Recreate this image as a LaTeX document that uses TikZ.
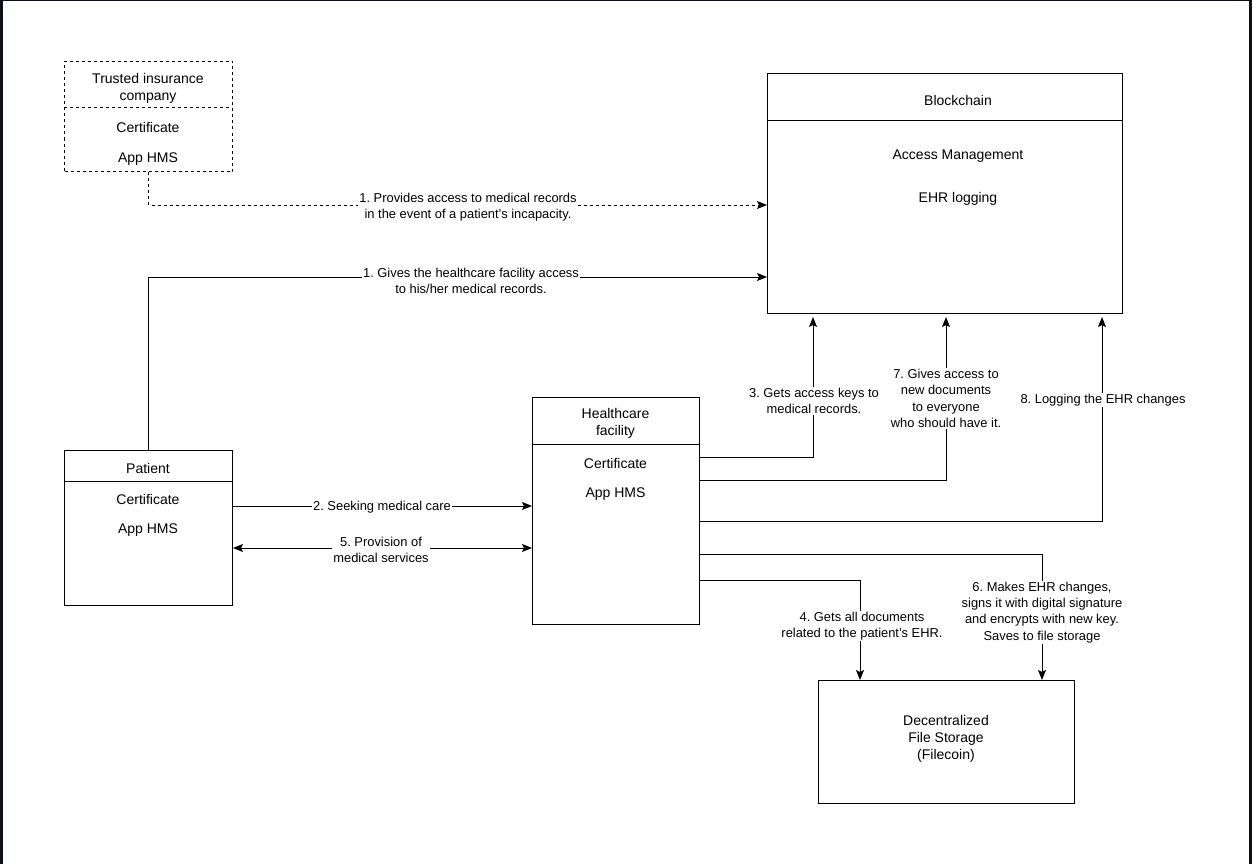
\documentclass[tikz,border=0pt]{standalone}
\usepackage{fontspec}
\setmainfont{Liberation Sans}
\usetikzlibrary{arrows.meta}
\definecolor{framecol}{HTML}{0D1117}
\tikzset{
  box/.style={draw=black, line width=1pt, anchor=north west, inner sep=0pt},
  dbox/.style={box, dash pattern=on 3pt off 3pt},
  btxt/.style={align=center, inner sep=0pt, yshift=-2pt, font=\fontsize{14}{17}\selectfont},
  lbl/.style={align=center, fill=white, inner sep=1pt, yshift=-1pt, font=\fontsize{12.9}{16.3}\selectfont},
  conn/.style={draw=black, line width=1pt, -{Stealth[length=10pt,width=8pt,inset=2pt]}},
  dconn/.style={conn, dash pattern=on 3pt off 3pt},
  bconn/.style={draw=black, line width=1pt, {Stealth[length=10pt,width=8pt,inset=2pt]}-{Stealth[length=10pt,width=8pt,inset=2pt]}}
}
\begin{document}
\frenchspacing
\begin{tikzpicture}[x=1pt,y=-1pt]
\useasboundingbox (0,0) rectangle (1252,864);
\fill[framecol] (0,0) rectangle (1252,864);
\fill[white] (3,1) rectangle (1249,864);

% Trusted insurance company (dashed)
\node[dbox, minimum width=168pt, minimum height=110pt] (ins) at (64,61) {};
\draw[line width=1pt, dash pattern=on 3pt off 3pt] (64,108) -- (232,108);
\node[btxt] (ins-t) at (148,86) {Trusted insurance\\company};
\node[btxt] (ins-c) at (148,125) {Certificate};
\node[btxt] (ins-a) at (148,157) {App HMS};

% Blockchain
\node[box, minimum width=355pt, minimum height=240pt] (bc) at (767,73) {};
\draw[line width=1pt] (767,121) -- (1122,121);
\node[btxt] (bc-t) at (958,98) {Blockchain};
\node[btxt] (bc-am) at (958,154) {Access Management};
\node[btxt] (bc-eh) at (958,197) {EHR logging};

% Patient
\node[box, minimum width=168pt, minimum height=155pt] (pat) at (64,450) {};
\draw[line width=1pt] (64,481) -- (232,481);
\node[btxt] (pat-t) at (148,466) {Patient};
\node[btxt] (pat-c) at (148,497) {Certificate};
\node[btxt] (pat-a) at (148,528) {App HMS};

% Healthcare facility
\node[box, minimum width=167pt, minimum height=227pt] (hf) at (532,397) {};
\draw[line width=1pt] (532,444) -- (699,444);
\node[btxt] (hf-t) at (615.5,421.5) {Healthcare\\facility};
\node[btxt] (hf-c) at (615.5,461) {Certificate};
\node[btxt] (hf-a) at (615.5,492) {App HMS};

% File storage
\node[box, minimum width=256pt, minimum height=123pt] (fs) at (818,680) {};
\node[btxt] (fs-t) at (946,737) {Decentralized\\File Storage\\(Filecoin)};

% routing coordinates
\coordinate (c1) at (148,205);
\coordinate (c2) at (148,277);
\coordinate (c3) at (232,506);
\coordinate (c5) at (232,548);
\coordinate (k3) at (813,457);
\coordinate (k7) at (946,480);
\coordinate (k8) at (1102,521);
\coordinate (k6) at (1042,554);
\coordinate (k4) at (860,580);

% connectors
\draw[dconn] (ins.south) |- (bc.west |- c1);
\draw[conn] (pat.north) |- (bc.west |- c2);
\draw[conn] (pat.east |- c3) -- (hf.west |- c3);
\draw[bconn] (pat.east |- c5) -- (hf.west |- c5);
\draw[conn, shorten >=3pt] (hf.east |- k3) -| (bc.south -| k3);
\draw[conn, shorten >=3pt] (hf.east |- k7) -| (bc.south -| k7);
\draw[conn, shorten >=3pt] (hf.east |- k8) -| (bc.south -| k8);
\draw[conn] (hf.east |- k6) -| (fs.north -| k6);
\draw[conn] (hf.east |- k4) -| (fs.north -| k4);

% labels
\node[lbl] (l1a) at (468,206.5) {1. Provides access to medical records\\in the event of a patient's incapacity.};
\node[lbl] (l1b) at (471,280) {1. Gives the healthcare facility access\\to his/her medical records.};
\node[lbl] (l2) at (382,506) {2. Seeking medical care};
\node[lbl] (l5) at (381,549) {5. Provision of\\medical services};
\node[lbl] (l3) at (814,400) {3. Gets access keys to\\medical records.};
\node[lbl] (l7) at (946,397.5) {7. Gives access to\\new documents\\to everyone\\who should have it.};
\node[lbl] (l8) at (1103,399) {8. Logging the EHR changes};
\node[lbl] (l6) at (1042,611.5) {6. Makes EHR changes,\\signs it with digital signature\\and encrypts with new key.\\Saves to file storage};
\node[lbl] (l4) at (862,625) {4. Gets all documents\\related to the patient's EHR.};
\end{tikzpicture}
\end{document}
